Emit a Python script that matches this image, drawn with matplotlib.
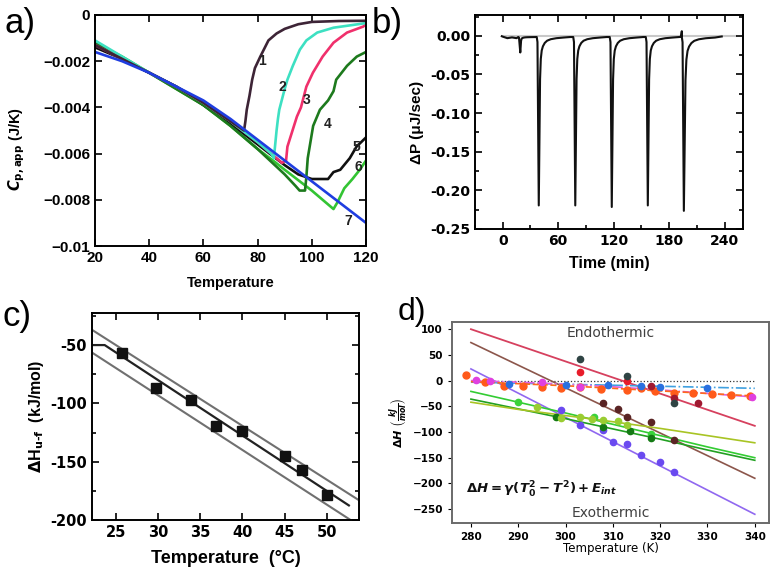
import numpy as np
import matplotlib
matplotlib.use('Agg')
import matplotlib.pyplot as plt
from matplotlib.ticker import MultipleLocator, FixedLocator, FixedFormatter, FormatStrFormatter

plt.rcParams['font.family'] = ['Liberation Sans', 'DejaVu Sans']
plt.rcParams['mathtext.fontset'] = 'custom'
plt.rcParams['mathtext.rm'] = 'DejaVu Sans:bold'
plt.rcParams['mathtext.it'] = 'DejaVu Sans:italic:bold'
plt.rcParams['mathtext.bf'] = 'DejaVu Sans:bold'

# ---------------- panel a : apparent heat capacity ----------------
a_T1 = [20, 30, 40, 50, 60, 70, 75, 75.5, 76, 77, 78, 79, 81, 84, 87, 90, 95, 100, 110, 120]
a_C1 = [-0.0013, -0.0019, -0.0025, -0.0031, -0.0038, -0.0046, -0.0050, -0.0046, -0.0041, -0.0035,
        -0.0028, -0.0023, -0.0018, -0.0011, -0.0008, -0.0006, -0.0004, -0.0003, -0.00026, -0.00025]
a_T2 = [20, 30, 40, 50, 60, 70, 80, 85, 86, 87, 87.5, 88, 90, 91, 93, 95.6, 98, 102, 108, 114, 120]
a_C2 = [-0.0011, -0.0018, -0.0025, -0.0031, -0.0038, -0.0046, -0.0055, -0.0060, -0.0062, -0.0050,
        -0.0045, -0.0041, -0.0032, -0.0028, -0.0022, -0.0015, -0.0011, -0.00076, -0.00055, -0.00045, -0.00035]
a_T3 = [20, 30, 40, 50, 60, 70, 80, 86, 89, 90.5, 91, 94.5, 96, 98, 100.4, 104, 108, 113, 119, 120]
a_C3 = [-0.0013, -0.0019, -0.0025, -0.0031, -0.0038, -0.0046, -0.0055, -0.0061, -0.0064, -0.0063,
        -0.0057, -0.0044, -0.0040, -0.0031, -0.0025, -0.0018, -0.0012, -0.00076, -0.0005, -0.0004]
a_T4 = [20, 30, 40, 50, 60, 70, 80, 90, 94, 95.5, 97.5, 98, 98.5, 100.5, 103, 106, 108, 109, 113, 116.6, 120]
a_C4 = [-0.0012, -0.0019, -0.0025, -0.0032, -0.0039, -0.0048, -0.0058, -0.0069, -0.0074, -0.0076,
        -0.0076, -0.0070, -0.0062, -0.0048, -0.0041, -0.0037, -0.0033, -0.0028, -0.0022, -0.0018, -0.0016]
a_T5 = [20, 30, 40, 50, 60, 70, 80, 90, 95, 100, 106, 108, 110.5, 114, 116.5, 120]
a_C5 = [-0.0014, -0.0019, -0.0025, -0.0031, -0.0039, -0.0047, -0.0056, -0.0065, -0.0069, -0.0071,
        -0.0071, -0.0068, -0.0067, -0.0062, -0.0057, -0.0053]
a_T6 = [20, 30, 40, 50, 60, 70, 80, 85.7, 90, 100, 106, 108, 109.5, 112, 115, 117.7, 120]
a_C6 = [-0.0012, -0.0018, -0.0025, -0.0032, -0.0039, -0.0048, -0.0058, -0.0063, -0.0067, -0.0076,
        -0.0082, -0.0084, -0.0081, -0.0075, -0.0071, -0.0067, -0.0063]
a_T7 = [20, 30, 40, 50, 60, 70, 80, 90, 100, 110, 120]
a_C7 = [-0.0016, -0.0020, -0.0025, -0.0031, -0.0037, -0.0045, -0.0054, -0.0063, -0.0072, -0.0081, -0.0090]
a_colors = ['#3d2436', '#3de0c2', '#f0306c', '#1d7a1d', '#111111', '#33c433', '#1f3de0']
a_names = ['1', '2', '3', '4', '5', '6', '7']
a_yticks = [0, -0.002, -0.004, -0.006, -0.008, -0.01]
a_yticklabels = ['0', '\u22120.002', '\u22120.004', '\u22120.006', '\u22120.008', '\u22120.01']
a_xticks = [20, 40, 60, 80, 100, 120]

# ---------------- panel b : ITC trace ----------------
b_peak_t = [19, 39, 78.5, 118, 157, 196]
b_peak_dp = [-0.020, -0.218, -0.218, -0.220, -0.218, -0.225]
b_tail_stretch = [0.6, 1.0, 1.0, 1.0, 1.0, 1.25]
b_prof_dt = [-2.2, -1.4, 0.0, 1.4, 2.2, 3.2, 4.5, 6.5, 9, 13, 19, 27, 34]
b_prof_frac = [0.0, 0.03, 1.0, 0.25, 0.13, 0.08, 0.055, 0.035, 0.022, 0.013, 0.007, 0.003, 0.0]
b_base = -0.0015
b_extra_t = [-1, 0, 5, 10, 15, 193, 193.8, 237]
b_extra_dp = [-0.0005, -0.001, -0.003, -0.002, -0.003, -0.001, 0.006, -0.0008]

# ---------------- panel c : enthalpy vs temperature ----------------
c_temp = [25.7, 29.8, 33.9, 36.9, 39.9, 45.0, 47.1, 50.0]
c_dh = [-57, -87, -97, -119, -123.5, -145, -157, -178.5]
c_fit_T = [22.3, 23.7, 52.6]
c_fit_H = [-50, -50, -187.5]
c_up_T = [22.0, 54.0]
c_up_H = [-36, -184]
c_lo_T = [22.0, 52.8]
c_lo_H = [-55.5, -200]

# ---------------- panel d : model fits ----------------
d_T = [280, 290, 300, 310, 320, 330, 340]
d_line_pink = [100, 68.7, 37.3, 6, -25.3, -56.7, -88]
d_line_brown = [74, 30, -14, -58, -102, -146, -190]
d_line_purple = [22.7, -24.4, -71.6, -118.8, -166, -213, -260]
d_line_green1 = [-21, -42, -63, -85, -107, -129, -150]
d_line_green2 = [-36, -55, -74, -94, -114, -135, -155]
d_line_yellow = [-42, -56, -68, -80, -93, -107, -121]
d_line_orange = [-2, -6, -10, -15, -20, -25, -30]
d_line_magenta = [0, -3, -7, -12, -18, -25, -32]
d_line_blue = [-3, -5, -7, -9, -11, -13, -15]

d_orange_T = [279, 283, 287, 291, 295, 299, 303, 307.5, 313, 316, 319, 323, 327, 331, 335, 339]
d_orange_H = [11, -2, -11, -10, -13, -14, -12, -17, -19, -15, -20, -24, -25, -26, -28, -30]
d_blue_T = [288, 300, 309, 316, 320, 330]
d_blue_H = [-7, -8, -9, -11, -12, -14]
d_magenta_T = [281, 284, 295, 303, 339.5]
d_magenta_H = [1, -1, -2, -12, -32]
d_red_T = [303, 313]
d_red_H = [16, -1]
d_maroon_T = [318, 323, 328]
d_maroon_H = [-10, -34, -44]
d_gray_T = [303, 313, 323]
d_gray_H = [42, 8, -44]
d_brown_T = [308, 311, 313, 318, 323]
d_brown_H = [-44, -56, -70, -80, -116]
d_purple_T = [299, 303, 308, 310, 313, 316, 320, 323]
d_purple_H = [-58, -86, -96, -119, -123, -145, -158, -177]
d_green1_T = [290, 306, 318]
d_green1_H = [-41, -70, -104]
d_green2_T = [298, 308, 313.7, 318]
d_green2_H = [-70, -90, -98, -112]
d_yellow_T = [294, 299, 303, 305.5, 308, 311, 313]
d_yellow_H = [-52, -72, -71, -74, -76, -78, -86]

fig = plt.figure(figsize=(7.74, 5.78), dpi=100)

def style_box(ax, lw=1.4):
    for s in ax.spines.values():
        s.set_linewidth(lw)
    ax.tick_params(which='both', direction='in', top=True, right=True, width=1.2)
    ax.tick_params(which='major', length=5)
    ax.tick_params(which='minor', length=3)

def bold_ticks(ax, family=None):
    for lab in ax.get_xticklabels() + ax.get_yticklabels():
        lab.set_fontweight('bold')
        if family:
            lab.set_family(family)

# ---- a ----
axa = fig.add_axes([95/774, 1-246/578, 271/774, 231/578])
series = [(a_T6, a_C6), (a_T5, a_C5), (a_T4, a_C4), (a_T3, a_C3), (a_T2, a_C2), (a_T1, a_C1), (a_T7, a_C7)]
order = [5, 4, 3, 2, 1, 0, 6]
for (tt, cc), idx in zip(series, order):
    axa.plot(tt, cc, color=a_colors[idx], lw=1.9, solid_joinstyle='round')
axa.set_xlim(20, 120)
axa.set_ylim(-0.01, 0)
axa.xaxis.set_major_locator(FixedLocator(a_xticks))
axa.yaxis.set_major_locator(FixedLocator(a_yticks))
axa.yaxis.set_major_formatter(FixedFormatter(a_yticklabels))
style_box(axa)
axa.tick_params(labelsize=11)
bold_ticks(axa)
axa.set_xlabel('Temperature', fontsize=10.5, fontweight='bold', labelpad=8)
axa.set_ylabel(r'$C_{\mathrm{p,app}}$ (J/K)', fontsize=10.5, fontweight='bold')
axa.yaxis.set_label_coords(-0.25, 0.42)
lab_pos = [(81.6, -0.0020), (89, -0.0031), (98, -0.0037), (106, -0.0047), (116.3, -0.0057), (117.3, -0.0066), (113.5, -0.0089)]
for name, (x, y) in zip(a_names, lab_pos):
    axa.text(x, y, name, fontsize=10, color='#222222', ha='center', va='center', fontweight='bold')

# ---- b ----
axb = fig.add_axes([475/774, 1-229/578, 268/774, 214/578])
tr_t = list(b_extra_t)
tr_p = list(b_extra_dp)
for i, (t0, dep, st) in enumerate(zip(b_peak_t, b_peak_dp, b_tail_stretch)):
    t_stop = b_peak_t[i + 1] + b_prof_dt[0] if i + 1 < len(b_peak_t) else 236
    for dt, fr in zip(b_prof_dt, b_prof_frac):
        tt = t0 + (dt if dt <= 0 else dt * st)
        if tt < t_stop:
            tr_t.append(tt)
            tr_p.append(b_base + dep * fr)
ordr = np.argsort(tr_t, kind='stable')
tr_t = np.array(tr_t)[ordr]
tr_p = np.array(tr_p)[ordr]
axb.plot([0, 252], [0, 0], color='#c8c8c8', lw=1.5, zorder=1)
axb.plot(tr_t, tr_p, color='#111111', lw=1.5, zorder=2)
axb.set_xlim(-30, 260)
axb.set_ylim(-0.25, 0.027)
axb.xaxis.set_major_locator(FixedLocator([0, 60, 120, 180, 240]))
axb.xaxis.set_minor_locator(FixedLocator([-30, 30, 90, 150, 210, 270]))
axb.yaxis.set_major_locator(MultipleLocator(0.05))
axb.yaxis.set_minor_locator(MultipleLocator(0.025))
axb.yaxis.set_major_formatter(FormatStrFormatter('%.2f'))
style_box(axb)
axb.tick_params(labelsize=10)
bold_ticks(axb, 'DejaVu Sans')
axb.set_xlabel('Time (min)', fontsize=11.5, fontweight='bold', labelpad=6)
axb.set_ylabel('\u0394P (\u03bcJ/sec)', fontsize=11, fontweight='bold', labelpad=4)

# ---- c ----
axc = fig.add_axes([92/774, 1-520/578, 267/774, 207/578])
axc.plot(c_up_T, c_up_H, color='#707070', lw=1.5)
axc.plot(c_lo_T, c_lo_H, color='#707070', lw=1.5)
axc.plot(c_fit_T, c_fit_H, color='#222222', lw=1.6)
axc.plot(c_temp, c_dh, 's', color='#111111', ms=6.5)
axc.set_xlim(22.2, 53.8)
axc.set_ylim(-200, -22.5)
axc.xaxis.set_major_locator(MultipleLocator(5))
axc.yaxis.set_major_locator(MultipleLocator(50))
axc.yaxis.set_minor_locator(MultipleLocator(25))
axc.yaxis.set_major_formatter(FormatStrFormatter('%d'))
style_box(axc)
axc.tick_params(labelsize=10.5)
bold_ticks(axc, 'DejaVu Sans')
axc.set_xlabel('Temperature  (\u00b0C)', fontsize=13, fontweight='bold', labelpad=7)
axc.set_ylabel(r'$\Delta$H$_{\mathrm{u\text{-}f}}$  (kJ/mol)', fontsize=11.5, fontweight='bold', labelpad=3)

# ---- d ----
axd = fig.add_axes([452/774, 1-523/578, 317/774, 201/578])
axd.plot([280, 340], [0, 0], ':', color='#333333', lw=0.9)
axd.plot(d_T, d_line_brown, color='#8c564b', lw=1.2)
axd.plot(d_T, d_line_pink, color='#d6405e', lw=1.3)
axd.plot(d_T, d_line_purple, color='#9068f0', lw=1.2)
axd.plot(d_T, d_line_green1, color='#33cc33', lw=1.2)
axd.plot(d_T, d_line_green2, color='#22a022', lw=1.2)
axd.plot(d_T, d_line_yellow, color='#a8c424', lw=1.2)
axd.plot(d_T, d_line_blue, '-.', color='#3fa0e0', lw=1.2)
axd.plot(d_T, d_line_magenta, '-.', color='#e060e0', lw=1.2)
axd.plot(d_T, d_line_orange, '--', color='#ff6a1a', lw=1.2)
ms = 4.5
axd.plot(d_orange_T, d_orange_H, 'o', color='#ff5a1a', ms=5)
axd.plot(d_blue_T, d_blue_H, 'o', color='#2a70e0', ms=ms)
axd.plot(d_magenta_T, d_magenta_H, 'o', color='#e040e0', ms=ms)
axd.plot(d_red_T, d_red_H, 'o', color='#e81c2a', ms=ms)
axd.plot(d_maroon_T, d_maroon_H, 'o', color='#a01830', ms=ms)
axd.plot(d_gray_T, d_gray_H, 'o', color='#2f4444', ms=ms)
axd.plot(d_brown_T, d_brown_H, 'o', color='#5a2424', ms=ms)
axd.plot(d_purple_T, d_purple_H, 'o', color='#6a4af0', ms=ms)
axd.plot(d_green1_T, d_green1_H, 'o', color='#3ad23a', ms=ms)
axd.plot(d_green2_T, d_green2_H, 'o', color='#147a14', ms=ms)
axd.plot(d_yellow_T, d_yellow_H, 'o', color='#9acd32', ms=ms)
axd.set_xlim(276, 343)
axd.set_ylim(-277, 114)
axd.xaxis.set_major_locator(MultipleLocator(10))
axd.yaxis.set_major_locator(MultipleLocator(50))
for s in axd.spines.values():
    s.set_linewidth(1.4)
    s.set_color('#6a6a6a')
axd.tick_params(labelsize=7.5, length=3, width=0.8)
bold_ticks(axd, 'DejaVu Sans')
axd.set_xlabel('Temperature (K)', fontsize=8.5, family='DejaVu Sans', labelpad=0)
axd.set_ylabel(r'$\Delta H\ \left(\frac{kJ}{mol}\right)$', fontsize=8, labelpad=2)
axd.text(309.5, 92, 'Endothermic', fontsize=10, color='#404040', ha='center', va='center', family='DejaVu Sans')
axd.text(309.5, -258, 'Exothermic', fontsize=10, color='#404040', ha='center', va='center', family='DejaVu Sans')
axd.text(279, -213, r'$\Delta H = \gamma(T_0^2 - T^2) + E_{int}$', fontsize=9.5, color='#111111', ha='left', va='center')

# panel letters
for x, y, s, fs in [(4, 24, 'a)', 25), (372, 24, 'b)', 25), (3, 316, 'c)', 25), (398, 312, 'd)', 23)]:
    fig.text(x/774, 1-y/578, s, fontsize=fs, ha='left', va='center', family='Liberation Sans')

fig.savefig('out.png', dpi=100)
